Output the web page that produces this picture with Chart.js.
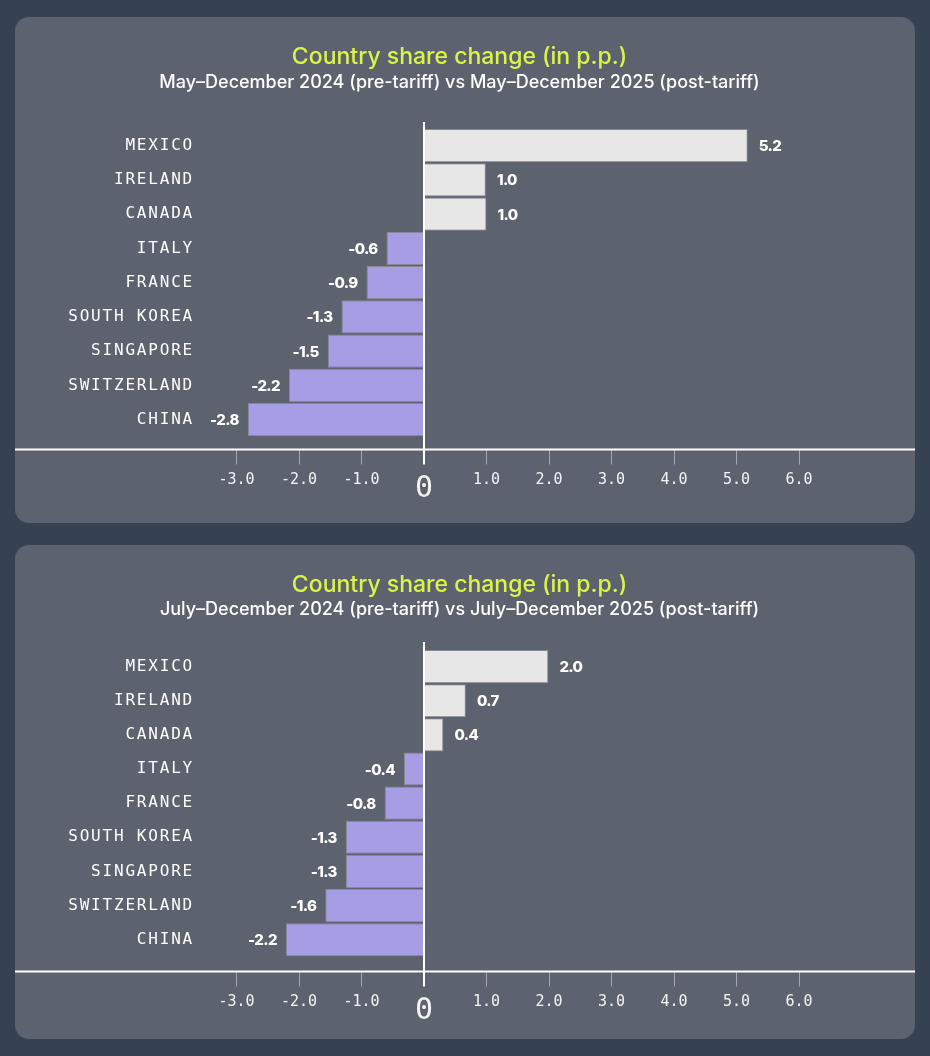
<!DOCTYPE html>
<html>
<head>
<meta charset="utf-8">
<script src="https://cdn.jsdelivr.net/npm/chart.js@4.4.1/dist/chart.umd.min.js"></script>
<style>
	body {
		margin: 0;
		background: #364152;
	}
	.panel {
		position: absolute;
		left: 15px;
		width: 900px;
		background: #5c636e;
		border-radius: 14px;
		overflow: hidden;
	}
	#p1 { top: 17px; height: 506px; }
	#p2 { top: 545px; height: 494px; }
</style>
</head>
<body>
<div class="panel" id="p1"><canvas id="chart1" width="900" height="506"></canvas></div>
<div class="panel" id="p2"><canvas id="chart2" width="900" height="494"></canvas></div>
<script>
var countries = ['MEXICO', 'IRELAND', 'CANADA', 'ITALY', 'FRANCE', 'SOUTH KOREA', 'SINGAPORE', 'SWITZERLAND', 'CHINA'];
var mayValues = [5.18, 0.99, 1.0, -0.6, -0.92, -1.32, -1.54, -2.16, -2.82];
var mayLabels = ['5.2', '1.0', '1.0', '-0.6', '-0.9', '-1.3', '-1.5', '-2.2', '-2.8'];
var julyValues = [1.99, 0.67, 0.31, -0.32, -0.63, -1.25, -1.25, -1.58, -2.21];
var julyLabels = ['2.0', '0.7', '0.4', '-0.4', '-0.8', '-1.3', '-1.3', '-1.6', '-2.2'];
var xTicks = [-3, -2, -1, 0, 1, 2, 3, 4, 5, 6];

var TITLE = 'Country share change (in p.p.)';
var SUB1 = 'May\u2013December 2024 (pre-tariff) vs May\u2013December 2025 (post-tariff)';
var SUB2 = 'July\u2013December 2024 (pre-tariff) vs July\u2013December 2025 (post-tariff)';

// numbers next to the bars
var valueLabels = {
	id: 'valueLabels',
	afterDatasetsDraw: function(chart) {
		var ctx = chart.ctx;
		var ds = chart.data.datasets[0];
		var meta = chart.getDatasetMeta(0);
		ctx.save();
		ctx.font = '800 15px Inter';
		ctx.letterSpacing = '-0.6px';
		ctx.fillStyle = '#ffffff';
		ctx.textBaseline = 'middle';
		meta.data.forEach(function(bar, i) {
			var neg = ds.data[i].x < 0;
			ctx.textAlign = neg ? 'right' : 'left';
			ctx.fillText(ds.valueText[i], neg ? bar.x - 9 : bar.x + 11, bar.y + 1);
		});
		ctx.restore();
	}
};

// x axis line runs across the whole panel
var fullAxisLine = {
	id: 'fullAxisLine',
	afterDraw: function(chart) {
		var ctx = chart.ctx;
		var y = chart.scales.x.top;
		ctx.save();
		ctx.strokeStyle = '#ffffff';
		ctx.lineWidth = 2;
		ctx.beginPath();
		ctx.moveTo(0, y);
		ctx.lineTo(chart.width, y);
		ctx.stroke();
		ctx.restore();
	}
};

// wider tracking for the country names
var spacedTicks = {
	id: 'spacedTicks',
	afterLayout: function(chart) {
		var s = chart.scales.y;
		if (s._spaced) return;
		var draw = s.drawLabels;
		s.drawLabels = function(area) {
			chart.ctx.save();
			chart.ctx.letterSpacing = '1.8px';
			draw.call(s, area);
			chart.ctx.restore();
		};
		s._spaced = true;
	}
};

function isZero(c) {
	return c.tick && c.tick.value === 0;
}

function makeChart(id, values, texts, subtitle, yMin, yMax, titlePad, subPad, bottomPad) {
	return new Chart(document.getElementById(id), {
		type: 'bar',
		data: {
			datasets: [{
				data: values.map(function(v, i) { return {x: v, y: i}; }),
				valueText: texts,
				backgroundColor: values.map(function(v) { return v < 0 ? '#a69ee5' : '#e7e7e7'; }),
				borderColor: '#858993',
				borderWidth: 1,
				barPercentage: 0.97,
				categoryPercentage: 1
			}]
		},
		options: {
			indexAxis: 'y',
			responsive: false,
			animation: false,
			layout: {padding: {left: 0, right: 11, top: 0, bottom: bottomPad}},
			plugins: {
				legend: {display: false},
				tooltip: {enabled: false},
				title: {
					display: true,
					text: TITLE,
					color: '#d9f54a',
					font: {family: 'Inter', size: 23, weight: '500'},
					padding: {top: 26.5, bottom: titlePad}
				},
				subtitle: {
					display: true,
					text: subtitle,
					color: '#ffffff',
					font: {family: 'Inter', size: 18, weight: '500'},
					padding: {top: 0, bottom: subPad}
				}
			},
			scales: {
				x: {
					type: 'linear',
					min: -3.52,
					max: 7.68,
					afterBuildTicks: function(s) {
						s.ticks = xTicks.map(function(v) { return {value: v}; });
					},
					afterFit: function(s) { s.height = 50; },
					border: {display: false},
					grid: {
						z: 1,
						color: function(c) { return isZero(c) ? '#ffffff' : 'rgba(0,0,0,0)'; },
						tickColor: function(c) { return isZero(c) ? '#ffffff' : '#a3a8b0'; },
						lineWidth: function(c) { return isZero(c) ? 2 : 1; },
						tickWidth: function(c) { return isZero(c) ? 2 : 1; },
						tickLength: 15
					},
					ticks: {
						color: '#f4f4f4',
						padding: 7,
						font: function(c) {
							return isZero(c) ? {family: 'DejaVu Sans Mono', size: 30} : {family: 'DejaVu Sans Mono', size: 15};
						},
						callback: function(v) { return v === 0 ? '0' : v.toFixed(1); }
					}
				},
				y: {
					type: 'linear',
					reverse: true,
					offset: false,
					min: yMin,
					max: yMax,
					afterBuildTicks: function(s) {
						s.ticks = countries.map(function(c, i) { return {value: i}; });
					},
					afterFit: function(s) { s.width = 189; },
					grid: {display: false, drawTicks: false, offset: false},
					border: {display: false},
					ticks: {
						color: '#ffffff',
						padding: 10,
						font: {family: 'DejaVu Sans Mono', size: 16},
						callback: function(v) { return countries[v]; }
					}
				}
			}
		},
		plugins: [valueLabels, fullAxisLine, spacedTicks]
	});
}

makeChart('chart1', mayValues, mayLabels, SUB1, -0.69, 8.87, 0.4, 28.9, 23.5);
makeChart('chart2', julyValues, julyLabels, SUB2, -0.72, 8.93, 0, 21.3, 17.5);
</script>
</body>
</html>
